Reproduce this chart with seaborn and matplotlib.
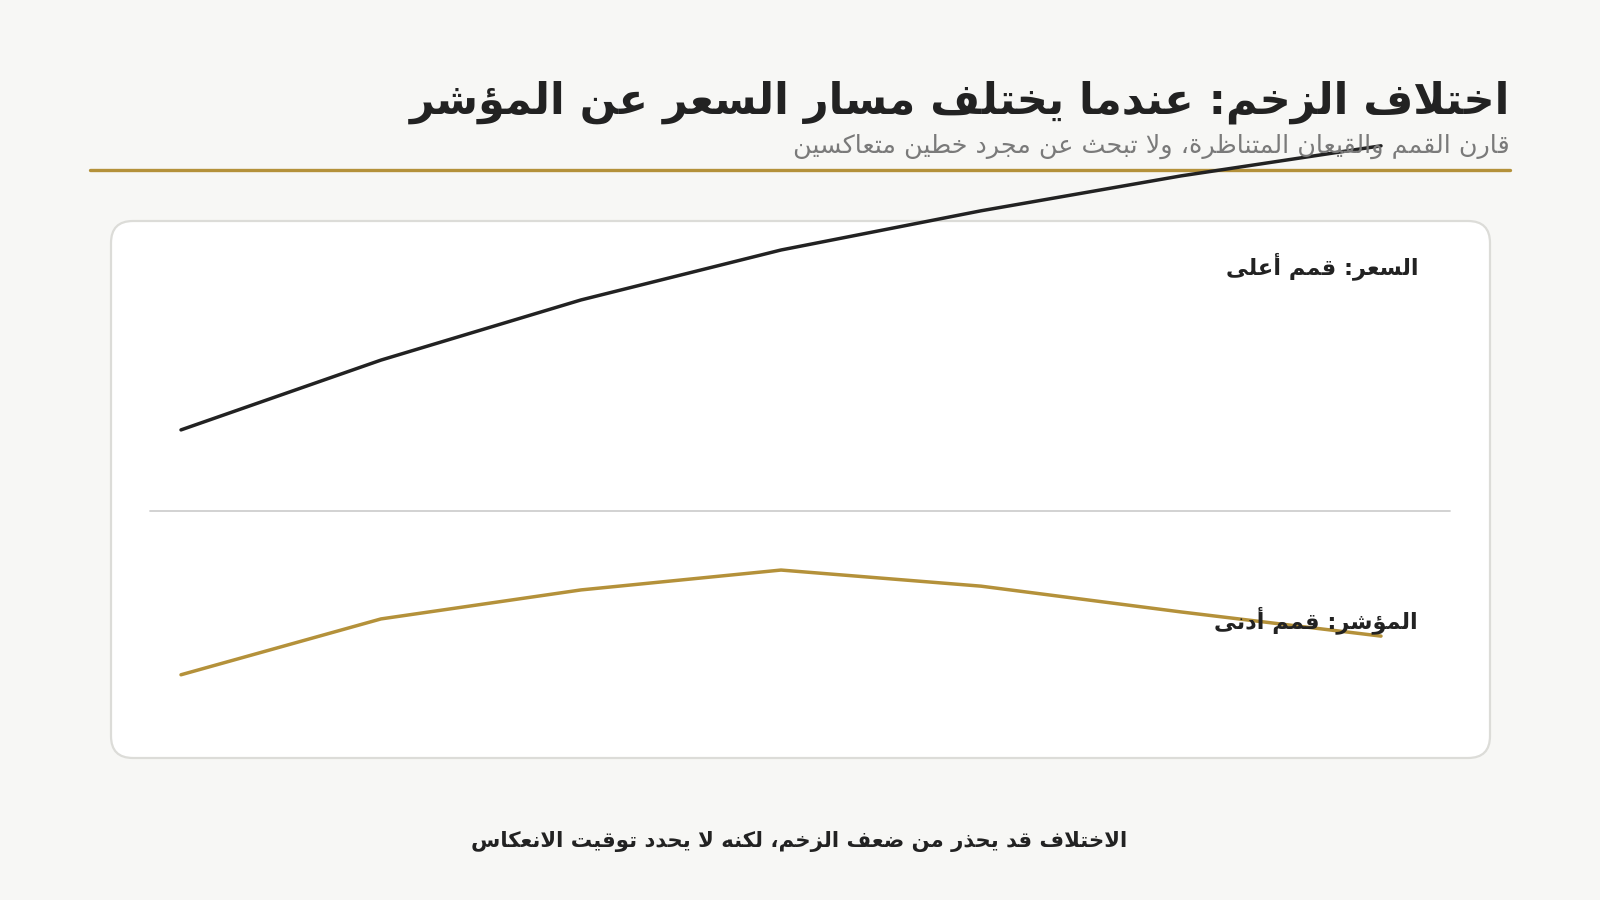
import numpy as np
import pandas as pd
import matplotlib.pyplot as plt
import seaborn as sns
from matplotlib.patches import FancyBboxPatch
from matplotlib.lines import Line2D

# ---- data (relative units 0-100 inside the card) ----
steps = [0, 1, 2, 3, 4, 5, 6]
price = [61.1, 74.1, 85.3, 94.6, 101.9, 108.4, 114.0]
indicator = [15.5, 25.9, 31.3, 35.0, 32.0, 27.2, 22.7]
divider_level = 46.0

title = "اختلاف الزخم: عندما يختلف مسار السعر عن المؤشر"
subtitle = "قارن القمم والقيعان المتناظرة، ولا تبحث عن مجرد خطين متعاكسين"
price_label = "السعر: قمم أعلى"
indicator_label = "المؤشر: قمم أدنى"
footer = "الاختلاف قد يحذر من ضعف الزخم، لكنه لا يحدد توقيت الانعكاس"

GOLD = "#b4913a"
INK = "#222222"
BG = "#f7f7f5"

# ---- minimal Arabic shaping (matplotlib has no complex text layout) ----
DUAL = {'ئ': 0xFE89, 'ب': 0xFE8F, 'ت': 0xFE95, 'ث': 0xFE99, 'ج': 0xFE9D, 'ح': 0xFEA1,
        'خ': 0xFEA5, 'س': 0xFEB1, 'ش': 0xFEB5, 'ص': 0xFEB9, 'ض': 0xFEBD, 'ط': 0xFEC1,
        'ظ': 0xFEC5, 'ع': 0xFEC9, 'غ': 0xFECD, 'ف': 0xFED1, 'ق': 0xFED5, 'ك': 0xFED9,
        'ل': 0xFEDD, 'م': 0xFEE1, 'ن': 0xFEE5, 'ه': 0xFEE9, 'ي': 0xFEF1}
RIGHT = {'آ': 0xFE81, 'أ': 0xFE83, 'ؤ': 0xFE85, 'إ': 0xFE87, 'ا': 0xFE8D, 'ة': 0xFE93,
         'د': 0xFEA9, 'ذ': 0xFEAB, 'ر': 0xFEAD, 'ز': 0xFEAF, 'و': 0xFEED, 'ى': 0xFEEF}
LAMALEF = {'آ': 0xFEF5, 'أ': 0xFEF7, 'إ': 0xFEF9, 'ا': 0xFEFB}


def ar(s):
    out = []
    i = 0
    n = len(s)
    while i < n:
        c = s[i]
        joined = i > 0 and s[i - 1] in DUAL
        if c == 'ل' and i + 1 < n and s[i + 1] in LAMALEF:
            out.append(chr(LAMALEF[s[i + 1]] + (1 if joined else 0)))
            i += 2
            continue
        nxt = i + 1 < n and (s[i + 1] in DUAL or s[i + 1] in RIGHT)
        if c in DUAL:
            form = (3 if nxt else 1) if joined else (2 if nxt else 0)
            out.append(chr(DUAL[c] + form))
        elif c in RIGHT:
            out.append(chr(RIGHT[c] + (1 if joined else 0)))
        else:
            out.append(c)
        i += 1
    return ''.join(out)[::-1]


sns.set_theme(style="white")
plt.rcParams['font.family'] = ['DejaVu Sans']

W, H = 1600, 900
fig = plt.figure(figsize=(16, 9), dpi=100)
fig.patch.set_facecolor(BG)

# card (pixel coordinates, origin bottom-left)
card = FancyBboxPatch((111, H - 758), 1379, 537, boxstyle="round,pad=0,rounding_size=22",
                      transform=None, facecolor="white", edgecolor="#dcdcd8", linewidth=1.6, zorder=0)
fig.patches.append(card)

# gold rule under the titles
fig.add_artist(Line2D([90 / W, 1510 / W], [1 - 170 / H, 1 - 170 / H], color=GOLD, linewidth=2.4))

fig.text(1510 / W, 1 - 102 / H, ar(title), ha="right", va="center", fontsize=31,
         fontweight="bold", color=INK)
fig.text(1510 / W, 1 - 146 / H, ar(subtitle), ha="right", va="center", fontsize=18.3, color="#7a7a7a")
fig.text(799 / W, 1 - 841 / H, ar(footer), ha="center", va="center", fontsize=15.3,
         fontweight="bold", color=INK)

ax = fig.add_axes([111 / W, 1 - 758 / H, 1379 / W, 537 / H])
ax.set_facecolor("none")
ax.set_zorder(3)

df = pd.DataFrame({
    "step": steps * 2,
    "value": price + indicator,
    "series": ["price"] * len(steps) + ["indicator"] * len(steps),
})
sns.lineplot(data=df, x="step", y="value", hue="series",
             palette={"price": INK, "indicator": GOLD}, linewidth=2.5,
             legend=False, clip_on=False, ax=ax)

ax.axhline(divider_level, xmin=(150 - 111) / 1379, xmax=(1450 - 111) / 1379,
           color="#cfcfcf", linewidth=1.3, zorder=1)
ax.set_xlim((111 - 181) / 200, (1490 - 181) / 200)
ax.set_ylim(0, 100)
ax.axis("off")

fig.text(1418 / W, 1 - 266 / H, ar(price_label), ha="right", va="center", fontsize=16.2,
         fontweight="bold", color=INK, zorder=4)
fig.text(1418 / W, 1 - 620 / H, ar(indicator_label), ha="right", va="center", fontsize=16.2,
         fontweight="bold", color=INK, zorder=4)

fig.savefig("out.png", dpi=100, facecolor=BG)
